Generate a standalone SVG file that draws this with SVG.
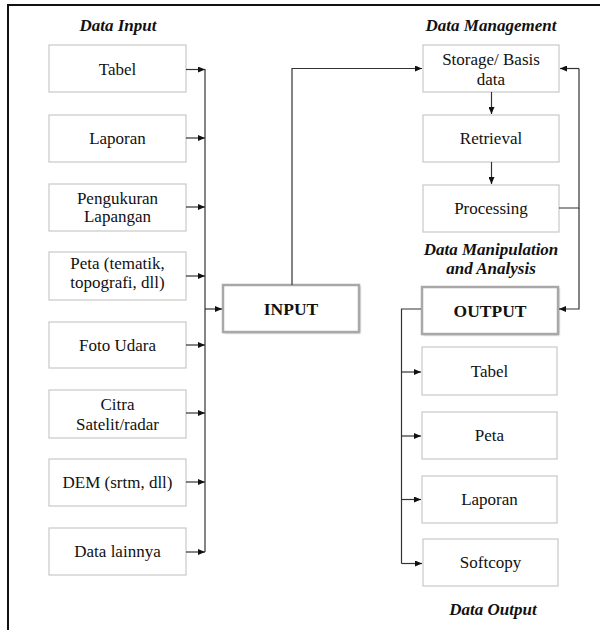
<svg xmlns="http://www.w3.org/2000/svg" width="600" height="630" viewBox="0 0 600 630">
<defs>
<marker id="ah" markerWidth="8" markerHeight="6" refX="7" refY="3" orient="auto" markerUnits="userSpaceOnUse">
<path d="M0,0 L7,3 L0,6 Z" fill="#111"/>
</marker>
<filter id="sh" x="-10%" y="-20%" width="120%" height="140%">
<feGaussianBlur stdDeviation="1"/>
</filter>
</defs>
<style>
text{font-family:'Liberation Serif','Tinos','Times New Roman','Times','Noto Serif','DejaVu Serif','FreeSerif',serif}
.box{fill:#fff;stroke:#c8c8c8;stroke-width:1.2}
.big{fill:#fff;stroke:#a8a8a8;stroke-width:2.5}
.t{font-size:17px;fill:#111;text-anchor:middle}
.b{font-weight:bold;font-size:17.5px}
.h{font-size:17px;font-weight:bold;font-style:italic;fill:#111;text-anchor:middle}
.c{fill:none;stroke:#333;stroke-width:1.2}
.ca{fill:none;stroke:#333;stroke-width:1.2;marker-end:url(#ah)}
</style>
<rect width="600" height="630" fill="#fff"/>
<path d="M8,630 V5 H600" fill="none" stroke="#111" stroke-width="2"/>
<text class="h" x="118" y="31">Data Input</text>
<text class="h" x="491" y="31">Data Management</text>
<text class="h" x="491" y="255">Data Manipulation</text>
<text class="h" x="491" y="274">and Analysis</text>
<text class="h" x="493" y="615">Data Output</text>
<g id="in-tabel"><rect class="box" x="49" y="45" width="137" height="47"/><text class="t" x="117.5" y="75">Tabel</text></g>
<g id="in-laporan"><rect class="box" x="49" y="115" width="137" height="47"/><text class="t" x="117.5" y="144">Laporan</text></g>
<g id="in-pengukuran"><rect class="box" x="49" y="184" width="137" height="47"/><text class="t" x="117.5" y="204">Pengukuran</text><text class="t" x="117.5" y="222">Lapangan</text></g>
<g id="in-peta"><rect class="box" x="49" y="252" width="137" height="48"/><text class="t" x="117.5" y="269">Peta (tematik,</text><text class="t" x="117.5" y="288">topografi, dll)</text></g>
<g id="in-foto"><rect class="box" x="49" y="322" width="137" height="46"/><text class="t" x="117.5" y="351">Foto Udara</text></g>
<g id="in-citra"><rect class="box" x="49" y="390" width="137" height="48"/><text class="t" x="117.5" y="410">Citra</text><text class="t" x="117.5" y="430">Satelit/radar</text></g>
<g id="in-dem"><rect class="box" x="49" y="459" width="137" height="47"/><text class="t" x="117.5" y="488">DEM (srtm, dll)</text></g>
<g id="in-lainnya"><rect class="box" x="49" y="528" width="137" height="47"/><text class="t" x="117.5" y="557">Data lainnya</text></g>
<g id="input"><rect x="224" y="286" width="136" height="47" fill="#999" filter="url(#sh)"/><rect class="big" x="223" y="285" width="136" height="47"/><text class="t b" x="291" y="315">INPUT</text></g>
<g id="storage"><rect class="box" x="423" y="45" width="136" height="47"/><text class="t" x="491" y="65">Storage/ Basis</text><text class="t" x="491" y="85">data</text></g>
<g id="retrieval"><rect class="box" x="423" y="115" width="136" height="47"/><text class="t" x="491" y="144">Retrieval</text></g>
<g id="processing"><rect class="box" x="423" y="185" width="136" height="47"/><text class="t" x="491" y="214">Processing</text></g>
<g id="output"><rect x="423" y="288" width="136" height="47" fill="#999" filter="url(#sh)"/><rect class="big" x="422" y="287" width="136" height="47"/><text class="t b" x="490" y="317">OUTPUT</text></g>
<g id="out-tabel"><rect class="box" x="422" y="347" width="135" height="48"/><text class="t" x="489.5" y="377">Tabel</text></g>
<g id="out-peta"><rect class="box" x="422" y="412" width="135" height="47"/><text class="t" x="489.5" y="441">Peta</text></g>
<g id="out-laporan"><rect class="box" x="422" y="476" width="135" height="47"/><text class="t" x="489.5" y="505">Laporan</text></g>
<g id="out-softcopy"><rect class="box" x="423" y="539" width="135" height="47"/><text class="t" x="490.5" y="568">Softcopy</text></g>
<g id="connectors">
<path class="ca" d="M186,69.5 H205"/>
<path class="ca" d="M186,138 H205"/>
<path class="ca" d="M186,207 H205"/>
<path class="ca" d="M186,276 H205"/>
<path class="ca" d="M186,345 H205"/>
<path class="ca" d="M186,413 H205"/>
<path class="ca" d="M186,482 H205"/>
<path class="ca" d="M186,552 H205"/>
<path class="c" d="M205,69 V552"/>
<path class="ca" d="M205,309 H222"/>
<path class="ca" d="M292,285 V68.5 H422"/>
<path class="ca" d="M491.5,92 V114"/>
<path class="ca" d="M491.5,162 V184"/>
<path class="c" d="M559,208 H579 V68.5"/>
<path class="ca" d="M579,68.5 H560"/>
<path class="ca" d="M579,208 V309 H559"/>
<path class="c" d="M421,309 H401.5 V563.5"/>
<path class="ca" d="M401.5,372 H421"/>
<path class="ca" d="M401.5,436 H421"/>
<path class="ca" d="M401.5,499.5 H421"/>
<path class="ca" d="M401.5,563.5 H422"/>
</g>
</svg>
